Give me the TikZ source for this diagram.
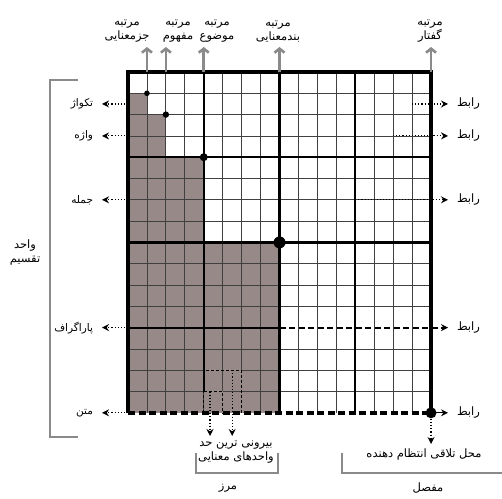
\documentclass[tikz,border=0pt]{standalone}
\usepackage{fontspec}
\newfontfamily\farsifont[Script=Arabic]{DejaVu Sans}
\TeXXeTstate=1
\newcommand{\rtltext}[1]{\beginR#1\endR}
\usetikzlibrary{arrows.meta,positioning}
\definecolor{cellshade}{RGB}{151,137,135}
\definecolor{rankgray}{RGB}{138,138,138}

\begin{document}
\begin{tikzpicture}[x=1pt, y=-1pt, >={Stealth[length=7pt, width=7pt]},
    every node/.style={font=\farsifont\fontsize{11.5}{14}\selectfont, inner sep=1pt, align=center},
    thinrule/.style={line width=0.8pt, black!75},
    midrule/.style={line width=1.8pt},
    heavyrule/.style={line width=3.2pt},
    framerule/.style={line width=3.8pt},
    boxdash/.style={line width=0.9pt, dash pattern=on 3pt off 2pt},
    rowdash/.style={line width=2.2pt, dash pattern=on 6pt off 3.5pt},
    lnk/.style={->, line width=1.1pt, dotted},
    rank/.style={rankgray, line width=2.6pt, -{Straight Barb[length=4pt, width=10pt]}},
    brk/.style={rankgray, line width=2.2pt},
    leftlab/.style={outer xsep=8pt, font=\farsifont\fontsize{10.5}{13}\selectfont},
    rightlab/.style={outer xsep=8pt},
    toplab/.style={anchor=south, outer ysep=4pt},
    botlab/.style={anchor=north, outer ysep=4pt}]
\useasboundingbox (0,0) rectangle (502,498);

% the 16 x 16 grid
\begin{scope}[shift={(128,72)}, x=18.94pt, y=-21.3pt]
  \fill[cellshade] (0,1) -| (1,2) -| (2,4) -| (4,8) -| (8,16) -- (0,16) -- cycle;
  \foreach \i in {1,...,15} \draw[thinrule] (\i,0) -- (\i,16);
  \foreach \i in {1,...,11,13,14,15} \draw[thinrule] (0,\i) -- (16,\i);
  \draw[midrule] (4,0) -- (4,15) (12,0) -- (12,16) (0,4) -- (16,4) (0,12) -- (8,12);
  \draw[heavyrule] (8,0) -- (8,16) (0,8) -- (16,8);
  \draw[framerule] (0,16) -- (0,0) -- (16,0) -- (16,16);
  \draw[framerule, dash pattern=on 7pt off 3.5pt] (0,16) -- (16,16);
  % dashed boxes
  \draw[cellshade, line width=1.2pt] (4,14) -| (6,16) (4,15) -| (5,16);
  \draw[boxdash] (4,16) |- (6,14) -- (6,16) (4,15) -| (5,16);
  \foreach \p/\rad in {1/2.8pt, 2/3.2pt, 4/4pt, 8/6pt, 16/5.5pt} \fill (\p,\p) circle (\rad);
  \foreach \n/\c/\r in {1/15/1.5, 2/14/3, 3/12/6, 4/8/12, 5/16/16} {
    \coordinate (gl\n) at (0,\r);
    \coordinate (gr\n) at (\c,\r);
    \coordinate (ge\n) at (16,\r);
  }
  \foreach \n/\c in {1/1, 2/2, 3/4, 4/8, 5/16} \coordinate (gt\n) at (\c,0);
  \coordinate (bx1) at (4.33,15);
  \coordinate (bx2) at (5.5,14);
  \coordinate (gb) at (16,16);
\end{scope}

% ranks on top
\node[toplab] (rk1) at (127,47) {\rtltext{مرتبه}\\\rtltext{جزمعنایی}};
\node[toplab] (rk2) at (178,47) {\rtltext{مرتبه}\\\rtltext{مفهوم}};
\node[toplab] (rk3) at (217,47) {\rtltext{مرتبه}\\\rtltext{موضوع}};
\node[toplab] (rk4) at (278,47) {\rtltext{مرتبه}\\\rtltext{بندمعنایی}};
\node[toplab] (rk5) at (430,47) {\rtltext{مرتبه}\\\rtltext{گفتار}};
\foreach \n in {1,...,5} \draw[rank] (gt\n) -- (gt\n |- rk\n.south);

% units on the left
\foreach \n/\word in {1/تکواژ, 2/واژه, 3/جمله, 4/پاراگراف, 5/متن} {
  \node[left=26pt of gl\n, leftlab] (unit\n) {\rtltext{\word}};
  \draw[lnk] (gl\n) -- (unit\n.east);
}
\draw[brk] (78,80) -| (50,437) -- (78,437);
\node (vahed) at (25,253) {\rtltext{واحد}\\\rtltext{تقسیم}};

% links on the right
\foreach \n in {1,...,5} \node[right=17pt of ge\n, rightlab] (rabet\n) {\rtltext{رابط}};
\foreach \n in {1,2,3} \draw[lnk] (gr\n) -- (rabet\n.west);
\draw[rowdash, ->] (gr4) -- (rabet4.west);
\draw[->, line width=1.1pt] (gr5) -- (rabet5.west);

% bottom
\node[botlab] (outer) at (236,436) {\rtltext{بیرونی ترین حد}\\\rtltext{واحدهای معنایی}};
\draw[lnk] (bx1) -- (bx1 |- outer.north);
\draw[lnk] (bx2) -- (bx2 |- outer.north);
\draw[brk] (196,453) |- (278,473) -- (278,453);
\node (marz) at (228,488) {\rtltext{مرز}};

\node[botlab] (junction) at (424,444) {\rtltext{محل تلاقی انتظام دهنده}};
\draw[lnk] (gb) -- (gb |- junction.north);
\draw[brk] (342,453) |- (502,473);
\node (mafsal) at (428,488) {\rtltext{مفصل}};
\end{tikzpicture}
\end{document}
